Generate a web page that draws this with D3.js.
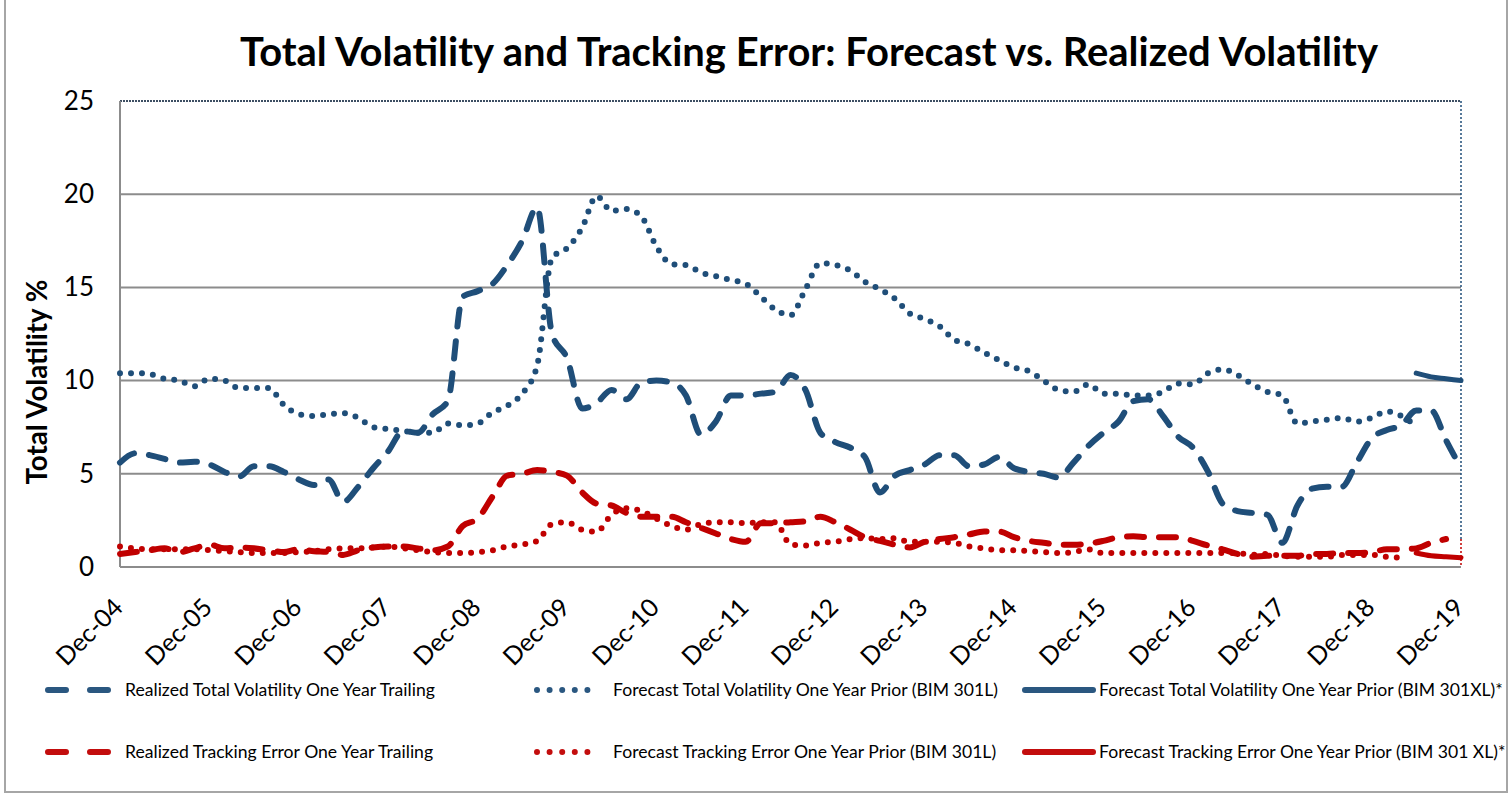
<!DOCTYPE html>
<html>
<head>
<meta charset="utf-8">
<script src="https://cdn.jsdelivr.net/npm/d3@7"></script>
<style>
  body { margin: 0; background: #fff; }
  svg { display: block; }
  text { font-family: Lato, "Liberation Sans", sans-serif; fill: #000; }
</style>
</head>
<body>
<script>
// bimonthly observations, Dec-04 .. Dec-19 (91 points)
var tickLabels = ["Dec-04","Dec-05","Dec-06","Dec-07","Dec-08","Dec-09","Dec-10","Dec-11",
                  "Dec-12","Dec-13","Dec-14","Dec-15","Dec-16","Dec-17","Dec-18","Dec-19"];

var realizedTV = [5.6,6.1,6.0,5.8,5.6,5.65,5.5,5.1,4.85,5.4,
  5.4,5.1,4.7,4.4,4.7,3.5,4.3,5.3,6.2,7.3,
  7.2,8.2,8.9,14.5,14.8,15.2,16.2,17.5,19.3,12.5,
  11.2,8.5,8.8,9.5,9.0,9.9,10.0,9.9,9.2,7.1,
  7.8,9.2,9.2,9.3,9.4,10.3,9.5,7.2,6.7,6.4,
  5.9,4.0,4.9,5.2,5.5,6.0,6.0,5.4,5.5,5.9,
  5.3,5.1,5.0,4.8,5.6,6.5,7.2,7.8,8.9,9.0,
  8.1,7.0,6.4,5.1,3.4,3.0,2.9,2.8,1.3,3.3,
  4.2,4.3,4.3,5.6,6.9,7.35,7.6,8.4,8.4,6.8,
  5.3];

var forecastTV301L = [10.4,10.4,10.35,10.1,10.0,9.7,10.1,10.0,9.6,9.6,
  9.6,8.7,8.2,8.1,8.2,8.25,8.0,7.5,7.4,7.3,
  7.2,7.2,7.7,7.6,7.7,8.3,8.65,9.3,10.8,16.6,
  17.1,18.2,19.9,19.1,19.2,18.8,17.2,16.25,16.2,15.8,
  15.6,15.4,15.2,14.5,13.8,13.5,14.9,16.3,16.2,15.9,
  15.3,14.9,14.4,13.6,13.3,12.9,12.2,11.95,11.5,11.1,
  10.7,10.5,10.0,9.5,9.4,9.8,9.3,9.3,9.2,9.2,
  9.4,9.85,9.8,10.4,10.6,10.3,9.8,9.4,9.2,7.7,
  7.8,7.9,8.0,7.8,8.0,8.35,8.1,7.55,null,null,
  null];

var forecastTV301XL = [null,null,null,null,null,null,null,null,null,null,
  null,null,null,null,null,null,null,null,null,null,
  null,null,null,null,null,null,null,null,null,null,
  null,null,null,null,null,null,null,null,null,null,
  null,null,null,null,null,null,null,null,null,null,
  null,null,null,null,null,null,null,null,null,null,
  null,null,null,null,null,null,null,null,null,null,
  null,null,null,null,null,null,null,null,null,null,
  null,null,null,null,null,null,null,10.4,10.2,10.1,
  10.0];

var realizedTE = [0.7,0.8,0.9,1.0,0.8,1.0,1.2,1.0,1.05,1.0,
  0.9,0.8,0.95,0.85,0.8,0.65,0.9,1.05,1.1,1.1,
  1.0,0.9,1.1,2.2,2.6,3.8,4.9,5.0,5.2,5.1,
  4.9,4.0,3.4,3.3,2.9,2.7,2.7,2.7,2.4,2.1,
  1.8,1.5,1.35,2.35,2.35,2.4,2.45,2.7,2.4,2.0,
  1.6,1.4,1.2,1.05,1.35,1.5,1.6,1.75,1.9,1.9,
  1.6,1.4,1.3,1.2,1.2,1.25,1.4,1.6,1.65,1.6,
  1.6,1.6,1.4,1.15,0.95,0.7,0.55,0.6,0.6,0.6,
  0.7,0.7,0.75,0.75,0.8,0.95,0.95,1.0,1.3,1.5,
  null];

var forecastTE301L = [1.1,1.0,0.95,0.95,0.95,0.95,0.9,0.85,0.8,0.75,
  0.75,0.75,0.8,0.85,0.95,1.0,1.0,1.05,1.1,1.0,
  0.9,0.8,0.75,0.75,0.8,0.9,1.1,1.2,1.4,2.3,
  2.4,2.0,1.9,2.8,3.15,3.0,2.6,2.2,2.0,2.3,
  2.4,2.4,2.35,2.4,2.4,1.2,1.15,1.3,1.35,1.5,
  1.55,1.5,1.55,1.35,1.35,1.35,1.3,1.1,1.0,0.9,
  0.9,0.85,0.8,0.75,0.8,0.95,0.75,0.75,0.75,0.75,
  0.75,0.75,0.75,0.75,0.75,0.75,0.65,0.7,0.6,0.55,
  0.55,0.55,0.65,0.65,0.65,0.55,0.5,null,null,null,
  null];

var forecastTE301XL = [null,null,null,null,null,null,null,null,null,null,
  null,null,null,null,null,null,null,null,null,null,
  null,null,null,null,null,null,null,null,null,null,
  null,null,null,null,null,null,null,null,null,null,
  null,null,null,null,null,null,null,null,null,null,
  null,null,null,null,null,null,null,null,null,null,
  null,null,null,null,null,null,null,null,null,null,
  null,null,null,null,null,null,null,null,null,null,
  null,null,null,null,null,null,null,0.75,0.6,0.55,
  0.5];

var legendLabels = [
  "Realized Total Volatility One Year Trailing",
  "Forecast Total Volatility One Year Prior (BIM 301L)",
  "Forecast Total Volatility One Year Prior (BIM 301XL)*",
  "Realized Tracking Error One Year Trailing",
  "Forecast Tracking Error One Year Prior (BIM 301L)",
  "Forecast Tracking Error One Year Prior (BIM 301 XL)*"
];

var blue = "#1f4e79", red = "#c00000";

var W = 1511, H = 795;
var plot = {left: 120, right: 1461, top: 101, bottom: 567};

var svg = d3.select("body").append("svg")
    .attr("width", W)
    .attr("height", H);

// outer frame
svg.append("path")
    .attr("d", "M5,0V792H1507V0")
    .attr("fill", "none")
    .attr("stroke", "#a6a6a6")
    .attr("stroke-width", 2);

var start = new Date(2004, 11, 1);
var dates = realizedTV.map(function(d, i){ return d3.timeMonth.offset(start, 2 * i); });

var x = d3.scaleTime()
    .domain([start, new Date(2019, 11, 1)])
    .range([plot.left, plot.right]);

var y = d3.scaleLinear()
    .domain([0, 25])
    .range([plot.bottom, plot.top]);

// gridlines
svg.append("g")
  .selectAll("line")
  .data([5, 10, 15, 20])
  .enter().append("line")
    .attr("x1", plot.left).attr("x2", plot.right)
    .attr("y1", function(d){ return y(d); })
    .attr("y2", function(d){ return y(d); })
    .attr("stroke", "#8c8c8c")
    .attr("stroke-width", 2);

// plot border
svg.append("line")
    .attr("x1", plot.left).attr("x2", plot.right)
    .attr("y1", y(25)).attr("y2", y(25))
    .attr("stroke", "#3d4f63").attr("stroke-width", 2)
    .attr("stroke-dasharray", "2,1");
svg.append("line")
    .attr("x1", plot.left).attr("x2", plot.left)
    .attr("y1", y(25)).attr("y2", y(0))
    .attr("stroke", "#8c8c8c").attr("stroke-width", 2);
svg.append("line")
    .attr("x1", plot.left).attr("x2", plot.right)
    .attr("y1", y(0)).attr("y2", y(0))
    .attr("stroke", "#8c8c8c").attr("stroke-width", 2);
svg.append("line")
    .attr("x1", plot.right).attr("x2", plot.right)
    .attr("y1", y(25)).attr("y2", y(1.5))
    .attr("stroke", blue).attr("stroke-width", 1.5)
    .attr("stroke-dasharray", "2,2");
svg.append("line")
    .attr("x1", plot.right).attr("x2", plot.right)
    .attr("y1", y(1.5)).attr("y2", y(0))
    .attr("stroke", red).attr("stroke-width", 1.5)
    .attr("stroke-dasharray", "2,2");

// y axis
var yAxis = svg.append("g")
    .attr("transform", "translate(" + plot.left + ",0)")
    .call(d3.axisLeft(y).tickValues([0, 5, 10, 15, 20, 25]).tickSize(0).tickPadding(26));
yAxis.select(".domain").remove();
yAxis.selectAll("text")
    .attr("font-size", 26)
    .attr("font-family", "Lato, sans-serif")
    .attr("fill", "#000");

// x axis
var xAxis = svg.append("g")
    .attr("transform", "translate(0," + plot.bottom + ")")
    .call(d3.axisBottom(x)
      .tickValues(tickLabels.map(function(d, i){ return new Date(2004 + i, 11, 1); }))
      .tickFormat(function(d, i){ return tickLabels[i]; })
      .tickSize(0));
xAxis.select(".domain").remove();
xAxis.selectAll("text")
    .attr("font-size", 25)
    .attr("font-family", "Lato, sans-serif")
    .attr("fill", "#000")
    .attr("text-anchor", "end")
    .attr("y", 0).attr("dy", 0)
    .attr("transform", "translate(4,42) rotate(-45)");

// y title
var yTitle = svg.append("text")
    .attr("transform", "translate(47,382) rotate(-90)")
    .attr("text-anchor", "middle")
    .attr("font-weight", "bold")
    .attr("font-size", 22)
    .text("Total Volatility %");
fitWidth(yTitle, 205);

// title
var title = svg.append("text")
    .attr("x", 809).attr("y", 66)
    .attr("text-anchor", "middle")
    .attr("font-weight", "bold")
    .attr("font-size", 36)
    .text("Total Volatility and Tracking Error: Forecast vs. Realized Volatility");
fitWidth(title, 1138);

function fitWidth(sel, target) {
  var w = sel.node().getComputedTextLength();
  var fs = parseFloat(sel.attr("font-size"));
  sel.attr("font-size", fs * target / w);
}

// series
var line = d3.line()
    .defined(function(d){ return d.v != null; })
    .x(function(d){ return x(d.date); })
    .y(function(d){ return y(d.v); })
    .curve(d3.curveMonotoneX);

function pts(arr) {
  return arr.map(function(v, i){ return {date: dates[i], v: v}; });
}

var styles = {
  dashed: {dash: "17,15", width: 6},
  dotted: {dash: "0,11", width: 6},
  solid: {dash: null, width: 5}
};

var series = [
  {values: forecastTV301L, color: blue, style: "dotted"},
  {values: forecastTE301L, color: red, style: "dotted"},
  {values: realizedTV, color: blue, style: "dashed"},
  {values: realizedTE, color: red, style: "dashed"},
  {values: forecastTV301XL, color: blue, style: "solid"},
  {values: forecastTE301XL, color: red, style: "solid"}
];

svg.append("g")
  .selectAll("path")
  .data(series)
  .enter().append("path")
    .attr("d", function(d){ return line(pts(d.values)); })
    .attr("fill", "none")
    .attr("stroke", function(d){ return d.color; })
    .attr("stroke-width", function(d){ return styles[d.style].width; })
    .attr("stroke-dasharray", function(d){ return styles[d.style].dash; })
    .attr("stroke-linecap", "round")
    .attr("stroke-linejoin", "round");

// legend
var legendItems = [
  {label: legendLabels[0], color: blue, style: "dashed", col: 0, row: 0},
  {label: legendLabels[1], color: blue, style: "dotted", col: 1, row: 0},
  {label: legendLabels[2], color: blue, style: "solid", col: 2, row: 0},
  {label: legendLabels[3], color: red, style: "dashed", col: 0, row: 1},
  {label: legendLabels[4], color: red, style: "dotted", col: 1, row: 1},
  {label: legendLabels[5], color: red, style: "solid", col: 2, row: 1}
];
var cols = [{x0: 48, x1: 110, tx: 125}, {x0: 537, x1: 600, tx: 613}, {x0: 1025, x1: 1093, tx: 1099}];
var rows = [690, 752];

var leg = svg.append("g")
  .selectAll("g")
  .data(legendItems)
  .enter().append("g");

leg.append("line")
    .attr("x1", function(d){ return cols[d.col].x0; })
    .attr("x2", function(d){ return cols[d.col].x1; })
    .attr("y1", function(d){ return rows[d.row]; })
    .attr("y2", function(d){ return rows[d.row]; })
    .attr("stroke", function(d){ return d.color; })
    .attr("stroke-width", 6)
    .attr("stroke-linecap", "round")
    .attr("stroke-opacity", 0.95)
    .attr("stroke-dasharray", function(d){
      return d.style === "dashed" ? "18,24" : d.style === "dotted" ? "0,12.6" : null;
    });

var legText = leg.append("text")
    .attr("x", function(d){ return cols[d.col].tx; })
    .attr("y", function(d){ return rows[d.row]; })
    .attr("dy", "0.35em")
    .attr("font-size", 16)
    .text(function(d){ return d.label; });
fitWidth(d3.select(legText.nodes()[0]), 310);
legText.attr("font-size", d3.select(legText.nodes()[0]).attr("font-size"));
</script>
</body>
</html>
